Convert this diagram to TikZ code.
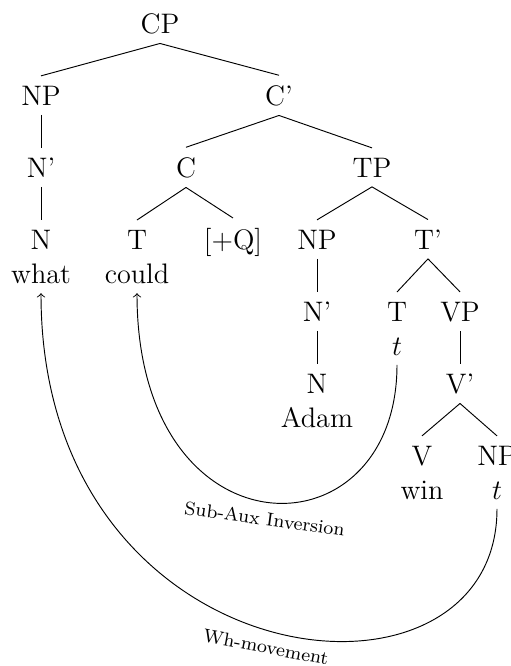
\documentclass[tikz,border=0pt,12pt]{standalone}
\begin{document}
\begin{tikzpicture}[x=0.4255pt, y=-0.4255pt,
    cat/.style={anchor=base},
    move/.style={->},
    movelabel/.style={font=\scriptsize}]
\useasboundingbox (0,0) rectangle (511,666);

% level 0
\node[cat] (CP) at (160,33) {CP};
% level 1
\node[cat] (NPa) at (41,105) {NP};
\node[cat] (Cbar) at (279,105) {C'};
% level 2
\node[cat] (Nbara) at (41,177) {N'};
\node[cat] (C) at (186,177) {C};
\node[cat] (TP) at (372,177) {TP};
% level 3
\node[cat] (Na) at (41,249) {N};
\node[cat] (what) at (41,283) {what};
\node[cat] (T) at (137,249) {T};
\node[cat] (could) at (137,283) {could};
\node[cat] (Q) at (233,249) {[+Q]};
\node[cat] (NPb) at (317,249) {NP};
\node[cat] (Tbar) at (428,249) {T'};
% level 4
\node[cat] (Nbarb) at (317,321) {N'};
\node[cat] (Tt) at (397,321) {T};
\node[cat] (tT) at (397,355) {$t$};
\node[cat] (VP) at (460,321) {VP};
% level 5
\node[cat] (Nb) at (317,393) {N};
\node[cat] (Adam) at (317,427) {Adam};
\node[cat] (Vbar) at (460,393) {V'};
% level 6
\node[cat] (V) at (422,465) {V};
\node[cat] (win) at (422,499) {win};
\node[cat] (NPc) at (497,465) {NP};
\node[cat] (tNP) at (497,499) {$t$};

% tree edges
\draw (CP.south) -- (NPa.north);
\draw (CP.south) -- (Cbar.north);
\draw (NPa.south) -- (Nbara.north);
\draw (Nbara.south) -- (Na.north);
\draw (Cbar.south) -- (C.north);
\draw (Cbar.south) -- (TP.north);
\draw (C.south) -- (T.north);
\draw (C.south) -- (Q.north);
\draw (TP.south) -- (NPb.north);
\draw (TP.south) -- (Tbar.north);
\draw (NPb.south) -- (Nbarb.north);
\draw (Nbarb.south) -- (Nb.north);
\draw (Tbar.south) -- (Tt.north);
\draw (Tbar.south) -- (VP.north);
\draw (VP.south) -- (Vbar.north);
\draw (Vbar.south) -- (V.north);
\draw (Vbar.south) -- (NPc.north);

% movement arrows
\draw[move] (tT.south) .. controls +(0,195) and +(0,267) .. (could.south)
  node[movelabel, midway, below, sloped] {Sub-Aux Inversion};
\draw[move] (tNP.south) .. controls +(0,222) and +(0,391) .. (what.south)
  node[movelabel, midway, below, rotate=-10.5] {Wh-movement};
\end{tikzpicture}
\end{document}
